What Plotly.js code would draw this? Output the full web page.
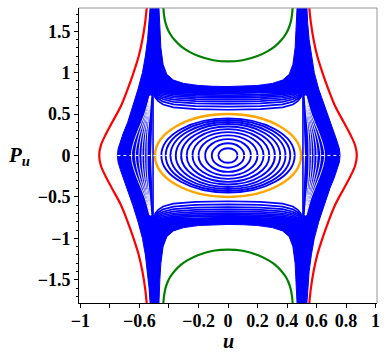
<!DOCTYPE html>
<html>
<head>
<meta charset="utf-8">
<script src="https://cdn.plot.ly/plotly-3.0.1.min.js"></script>
<style>
  html, body { margin: 0; padding: 0; background: white; }
  #chart { width: 388px; height: 359px; }
</style>
</head>
<body>
<div id="chart"></div>
<script>
const BLUE = 'rgb(0,0,255)';
const ORANGE = 'rgb(255,165,0)';
const RED = 'rgb(255,0,0)';
const GREEN = 'rgb(0,128,0)';

// axis ticks
const X_TICKS = [ -1, -0.6, -0.2, 0, 0.2, 0.4, 0.6, 0.8, 1 ];
const X_LABELS = [ '\u22121', '\u22120.6', '\u22120.2', '0', '0.2', '0.4', '0.6', '0.8', '1' ];
const X_MINOR_TICKS = [ -0.8, -0.4 ];
const Y_TICKS = [ -1.5, -1, -0.5, 0, 0.5, 1, 1.5 ];
const Y_LABELS = [ '\u22121.5', '\u22121', '\u22120.5', '0', '0.5', '1', '1.5' ];

// red outer curves
const RED_P = [ 1.78, 1.6, 1.4, 1.2, 1.0, 0.8, 0.6, 0.4, 0.25, 0.12, 0, -0.12, -0.25, -0.4, -0.6, -0.8, -1.0, -1.2, -1.4, -1.6, -1.78 ];
const RED_RIGHT_U = [ 0.551, 0.562, 0.58, 0.605, 0.64, 0.68, 0.725, 0.785, 0.83, 0.862, 0.873, 0.862, 0.83, 0.785, 0.725, 0.68, 0.64, 0.605, 0.58, 0.562, 0.551 ];
const RED_LEFT_U = [ -0.551, -0.562, -0.58, -0.605, -0.64, -0.68, -0.725, -0.785, -0.83, -0.862, -0.873, -0.862, -0.83, -0.785, -0.725, -0.68, -0.64, -0.605, -0.58, -0.562, -0.551 ];

// green curves, top and bottom
const GREEN_U = [ -0.438, -0.434, -0.425, -0.41, -0.39, -0.36, -0.32, -0.27, -0.2, -0.1, 0, 0.1, 0.2, 0.27, 0.32, 0.36, 0.39, 0.41, 0.425, 0.434, 0.438 ];
const GREEN_TOP_P = [ 1.78, 1.70, 1.61, 1.53, 1.46, 1.39, 1.32, 1.26, 1.20, 1.15, 1.135, 1.15, 1.20, 1.26, 1.32, 1.39, 1.46, 1.53, 1.61, 1.70, 1.78 ];
const GREEN_BOT_P = [ -1.78, -1.70, -1.61, -1.53, -1.46, -1.39, -1.32, -1.26, -1.20, -1.15, -1.135, -1.15, -1.20, -1.26, -1.32, -1.39, -1.46, -1.53, -1.61, -1.70, -1.78 ];

// outline of the dense blue region (funnels + bands)
const DENSE_U = [
    -0.528, -0.535, -0.545, -0.56, -0.58, -0.61, -0.645, -0.68, -0.71, -0.73, -0.745, -0.75, -0.745, -0.73, -0.71, -0.68, -0.645, -0.61, -0.58, -0.56, -0.545, -0.535, -0.528,
    -0.468, -0.462, -0.455, -0.44, -0.415, -0.37, -0.3, -0.2, -0.1, 0, 0.1, 0.2, 0.3, 0.37, 0.415, 0.44, 0.455, 0.462, 0.468,
    0.535, 0.54, 0.55, 0.565, 0.585, 0.615, 0.65, 0.69, 0.72, 0.74, 0.755, 0.76, 0.755, 0.74, 0.72, 0.69, 0.65, 0.615, 0.585, 0.565, 0.55, 0.54, 0.535,
    0.468, 0.462, 0.455, 0.44, 0.415, 0.37, 0.3, 0.2, 0.1, 0, -0.1, -0.2, -0.3, -0.37, -0.415, -0.44, -0.455, -0.462, -0.468
];
const DENSE_P = [
    1.78, 1.6, 1.4, 1.2, 1.0, 0.8, 0.6, 0.4, 0.27, 0.17, 0.08, 0, -0.08, -0.17, -0.27, -0.4, -0.6, -0.8, -1.0, -1.2, -1.4, -1.6, -1.78,
    -1.78, -1.5, -1.3, -1.1, -0.98, -0.91, -0.87, -0.845, -0.835, -0.832, -0.835, -0.845, -0.87, -0.91, -0.98, -1.1, -1.3, -1.5, -1.78,
    -1.78, -1.6, -1.4, -1.2, -1.0, -0.8, -0.6, -0.4, -0.27, -0.17, -0.08, 0, 0.08, 0.17, 0.27, 0.4, 0.6, 0.8, 1.0, 1.2, 1.4, 1.6, 1.78,
    1.78, 1.5, 1.3, 1.1, 0.98, 0.91, 0.87, 0.845, 0.835, 0.832, 0.835, 0.845, 0.87, 0.91, 0.98, 1.1, 1.3, 1.5, 1.78
];

// white window holding the separate orbits
const WIN_U = [ -0.522, -0.518, -0.513, -0.509, -0.506, -0.495, -0.47, -0.44, -0.37, -0.22, 0, 0.22, 0.37, 0.44, 0.47, 0.495, 0.506, 0.509, 0.513, 0.518, 0.522, 0.518, 0.513, 0.509, 0.506, 0.495, 0.47, 0.44, 0.37, 0.22, 0, -0.22, -0.37, -0.44, -0.47, -0.495, -0.506, -0.509, -0.513, -0.518 ];
const WIN_P = [ 0, 0.2, 0.4, 0.6, 0.74, 0.79, 0.78, 0.765, 0.75, 0.742, 0.74, 0.742, 0.75, 0.765, 0.78, 0.79, 0.74, 0.6, 0.4, 0.2, 0, -0.2, -0.4, -0.6, -0.74, -0.79, -0.78, -0.765, -0.75, -0.742, -0.74, -0.742, -0.75, -0.765, -0.78, -0.79, -0.74, -0.6, -0.4, -0.2 ];

// thin gaps inside the funnels
const STRIPE_P = [ 0.72, 0.5, 0.3, 0.15, 0, -0.15, -0.3, -0.5, -0.72 ];
const STRIPES_LEFT = [
    [ -0.53, -0.565, -0.61, -0.64, -0.655, -0.64, -0.61, -0.565, -0.53 ],
    [ -0.528, -0.557, -0.594, -0.617, -0.628, -0.617, -0.594, -0.557, -0.528 ],
    [ -0.526, -0.55, -0.58, -0.597, -0.604, -0.597, -0.58, -0.55, -0.526 ],
    [ -0.525, -0.544, -0.567, -0.579, -0.583, -0.579, -0.567, -0.544, -0.525 ],
    [ -0.524, -0.538, -0.555, -0.563, -0.565, -0.563, -0.555, -0.538, -0.524 ],
    [ -0.523, -0.532, -0.543, -0.548, -0.549, -0.548, -0.543, -0.532, -0.523 ]
];
const STRIPES_RIGHT = [
    [ 0.53, 0.565, 0.61, 0.64, 0.655, 0.64, 0.61, 0.565, 0.53 ],
    [ 0.528, 0.557, 0.594, 0.617, 0.628, 0.617, 0.594, 0.557, 0.528 ],
    [ 0.526, 0.55, 0.58, 0.597, 0.604, 0.597, 0.58, 0.55, 0.526 ],
    [ 0.525, 0.544, 0.567, 0.579, 0.583, 0.579, 0.567, 0.544, 0.525 ],
    [ 0.524, 0.538, 0.555, 0.563, 0.565, 0.563, 0.555, 0.538, 0.524 ],
    [ 0.523, 0.532, 0.543, 0.548, 0.549, 0.548, 0.543, 0.532, 0.523 ]
];

// orbits squeezed above and below the orange curve
const ARCH_U = [ -0.508, -0.503, -0.493, -0.473, -0.44, -0.37, -0.22, 0, 0.22, 0.37, 0.44, 0.473, 0.493, 0.503, 0.508 ];
const ARCH_UPPER = [
    [ 0.79, 0.75, 0.70, 0.655, 0.615, 0.58, 0.56, 0.552, 0.56, 0.58, 0.615, 0.655, 0.70, 0.75, 0.79 ],
    [ 0.795, 0.76, 0.72, 0.685, 0.65, 0.617, 0.597, 0.59, 0.597, 0.617, 0.65, 0.685, 0.72, 0.76, 0.795 ],
    [ 0.80, 0.77, 0.737, 0.707, 0.678, 0.648, 0.629, 0.622, 0.629, 0.648, 0.678, 0.707, 0.737, 0.77, 0.80 ],
    [ 0.805, 0.778, 0.752, 0.726, 0.701, 0.674, 0.657, 0.65, 0.657, 0.674, 0.701, 0.726, 0.752, 0.778, 0.805 ],
    [ 0.81, 0.786, 0.765, 0.743, 0.721, 0.697, 0.681, 0.674, 0.681, 0.697, 0.721, 0.743, 0.765, 0.786, 0.81 ],
    [ 0.815, 0.793, 0.776, 0.757, 0.739, 0.717, 0.702, 0.695, 0.702, 0.717, 0.739, 0.757, 0.776, 0.793, 0.815 ],
    [ 0.82, 0.80, 0.785, 0.769, 0.754, 0.734, 0.72, 0.713, 0.72, 0.734, 0.754, 0.769, 0.785, 0.80, 0.82 ],
    [ 0.825, 0.807, 0.794, 0.78, 0.767, 0.749, 0.735, 0.728, 0.735, 0.749, 0.767, 0.78, 0.794, 0.807, 0.825 ]
];
const ARCH_LOWER = [
    [ -0.79, -0.75, -0.70, -0.655, -0.615, -0.58, -0.56, -0.552, -0.56, -0.58, -0.615, -0.655, -0.70, -0.75, -0.79 ],
    [ -0.795, -0.76, -0.72, -0.685, -0.65, -0.617, -0.597, -0.59, -0.597, -0.617, -0.65, -0.685, -0.72, -0.76, -0.795 ],
    [ -0.80, -0.77, -0.737, -0.707, -0.678, -0.648, -0.629, -0.622, -0.629, -0.648, -0.678, -0.707, -0.737, -0.77, -0.80 ],
    [ -0.805, -0.778, -0.752, -0.726, -0.701, -0.674, -0.657, -0.65, -0.657, -0.674, -0.701, -0.726, -0.752, -0.778, -0.805 ],
    [ -0.81, -0.786, -0.765, -0.743, -0.721, -0.697, -0.681, -0.674, -0.681, -0.697, -0.721, -0.743, -0.765, -0.786, -0.81 ],
    [ -0.815, -0.793, -0.776, -0.757, -0.739, -0.717, -0.702, -0.695, -0.702, -0.717, -0.739, -0.757, -0.776, -0.793, -0.815 ],
    [ -0.82, -0.80, -0.785, -0.769, -0.754, -0.734, -0.72, -0.713, -0.72, -0.734, -0.754, -0.769, -0.785, -0.80, -0.82 ],
    [ -0.825, -0.807, -0.794, -0.78, -0.767, -0.749, -0.735, -0.728, -0.735, -0.749, -0.767, -0.78, -0.794, -0.807, -0.825 ]
];
const SIDE_P = [ 0.79, -0.79 ];
const SIDE_LEFT_U = [ -0.508, -0.508 ];
const SIDE_RIGHT_U = [ 0.508, 0.508 ];

// closed orbits around the origin: half width (u), half height (Pu)
const RING_A = [ 0.065, 0.11, 0.155, 0.2, 0.241, 0.28, 0.318, 0.354, 0.39, 0.422, 0.452 ];
const RING_B = [ 0.088, 0.147, 0.198, 0.243, 0.282, 0.318, 0.35, 0.38, 0.405, 0.428, 0.448 ];
const ORANGE_A = 0.495;
const ORANGE_B = 0.5;

// white dotted trace along Pu = 0
const ZERO_U = [ -0.75, 0.76 ];

const data = [];

data.push( {
    type: 'scatter', mode: 'lines', x: DENSE_U, y: DENSE_P,
    fill: 'toself', fillcolor: BLUE, line: { color: BLUE, width: 1 }, hoverinfo: 'skip'
} );

data.push( {
    type: 'scatter', mode: 'lines', x: WIN_U, y: WIN_P,
    fill: 'toself', fillcolor: 'white', line: { color: 'white', width: 0 }, hoverinfo: 'skip'
} );

STRIPES_LEFT.concat( STRIPES_RIGHT ).forEach( ( s ) => {
    data.push( {
        type: 'scatter', mode: 'lines', x: s, y: STRIPE_P,
        line: { color: 'white', width: 0.9, shape: 'spline' }, hoverinfo: 'skip'
    } );
} );

ARCH_UPPER.concat( ARCH_LOWER ).forEach( ( a ) => {
    data.push( {
        type: 'scatter', mode: 'lines', x: ARCH_U, y: a,
        line: { color: BLUE, width: 1.7 }, hoverinfo: 'skip'
    } );
} );

[ SIDE_LEFT_U, SIDE_RIGHT_U ].forEach( ( s ) => {
    data.push( {
        type: 'scatter', mode: 'lines', x: s, y: SIDE_P,
        line: { color: BLUE, width: 1.6 }, hoverinfo: 'skip'
    } );
} );

[ RED_LEFT_U, RED_RIGHT_U ].forEach( ( r ) => {
    data.push( {
        type: 'scatter', mode: 'lines', x: r, y: RED_P,
        line: { color: RED, width: 2.2, shape: 'spline' }, hoverinfo: 'skip'
    } );
} );

[ GREEN_TOP_P, GREEN_BOT_P ].forEach( ( g ) => {
    data.push( {
        type: 'scatter', mode: 'lines', x: GREEN_U, y: g,
        line: { color: GREEN, width: 2.2, shape: 'spline' }, hoverinfo: 'skip'
    } );
} );

const shapes = RING_A.map( ( a, i ) => ( {
    type: 'circle', xref: 'x', yref: 'y', layer: 'above',
    x0: -a, x1: a, y0: -RING_B[ i ], y1: RING_B[ i ],
    line: { color: BLUE, width: 1.9 }
} ) );

shapes.push( {
    type: 'circle', xref: 'x', yref: 'y', layer: 'above',
    x0: -ORANGE_A, x1: ORANGE_A, y0: -ORANGE_B, y1: ORANGE_B,
    line: { color: ORANGE, width: 2.4 }
} );

shapes.push( {
    type: 'line', xref: 'x', yref: 'y', layer: 'above',
    x0: ZERO_U[ 0 ], x1: ZERO_U[ 1 ], y0: 0, y1: 0,
    line: { color: 'white', width: 1, dash: 'dot' }
} );

// gray frame on top and right
shapes.push( { type: 'line', xref: 'paper', yref: 'paper', x0: 0, x1: 1, y0: 1, y1: 1, line: { color: 'rgb(150,150,150)', width: 1 } } );
shapes.push( { type: 'line', xref: 'paper', yref: 'paper', x0: 1, x1: 1, y0: 0, y1: 1, line: { color: 'rgb(150,150,150)', width: 1 } } );

const tickFont = { family: 'Liberation Serif, serif', size: 18, color: 'black', weight: 'bold' };

const layout = {
    width: 388,
    height: 359,
    margin: { l: 79, r: 11, t: 8, b: 56 },
    paper_bgcolor: 'white',
    plot_bgcolor: 'white',
    showlegend: false,
    xaxis: {
        range: [ -1.01, 1.01 ],
        tickmode: 'array',
        tickvals: X_TICKS,
        ticktext: X_LABELS,
        ticks: 'outside',
        ticklen: 4,
        tickcolor: 'black',
        tickfont: tickFont,
        ticklabelstandoff: -3,
        minor: { tickmode: 'array', tickvals: X_MINOR_TICKS, ticks: 'outside', ticklen: 4, tickcolor: 'black' },
        showline: true,
        linecolor: 'black',
        linewidth: 1,
        showgrid: false,
        zeroline: false,
        fixedrange: true
    },
    yaxis: {
        range: [ -1.78, 1.78 ],
        tickmode: 'array',
        tickvals: Y_TICKS,
        ticktext: Y_LABELS,
        ticks: 'outside',
        ticklen: 4,
        tickcolor: 'black',
        tickfont: tickFont,
        minor: { tickmode: 'linear', tick0: 0, dtick: 0.1, ticks: 'outside', ticklen: 2, tickcolor: 'black' },
        showline: true,
        linecolor: 'black',
        linewidth: 1,
        showgrid: false,
        zeroline: false,
        fixedrange: true
    },
    shapes: shapes,
    annotations: [
        {
            text: '<b><i>u</i></b>', xref: 'x', yref: 'paper', x: 0, y: -0.13,
            xanchor: 'center', yanchor: 'middle', showarrow: false,
            font: { family: 'Liberation Serif, serif', size: 20, color: 'black' }
        },
        {
            text: '<b><i>P</i></b><sub><b><i>u</i></b></sub>', xref: 'paper', yref: 'y', x: -0.2, y: 0,
            xanchor: 'center', yanchor: 'middle', showarrow: false,
            font: { family: 'Liberation Serif, serif', size: 21, color: 'black' }
        }
    ]
};

Plotly.newPlot( 'chart', data, layout, { displayModeBar: false, staticPlot: true } );
</script>
</body>
</html>
